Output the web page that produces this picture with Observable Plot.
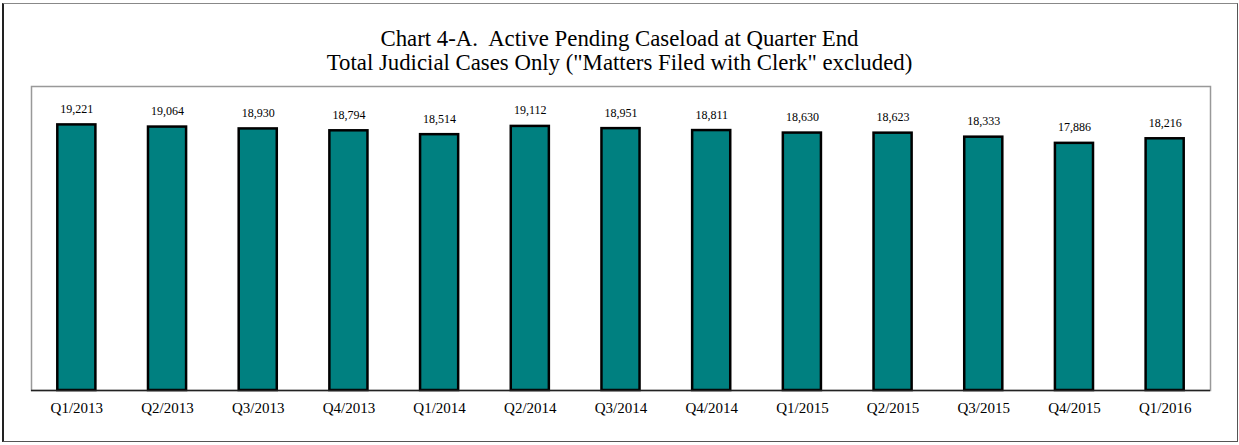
<!DOCTYPE html>
<html>
<head>
<meta charset="utf-8">
<script src="https://cdn.jsdelivr.net/npm/d3@7"></script>
<script src="https://cdn.jsdelivr.net/npm/@observablehq/plot@0.6"></script>
<style>
  body { margin: 0; background: #fff; }
  #wrap { position: relative; width: 1239px; height: 445px; overflow: hidden; font-family: "Liberation Serif", "Times New Roman", serif; }
  #border { position: absolute; left: 2px; top: 3px; width: 1233px; height: 437px; border: 1px solid #555; border-left: 2px solid #222; border-top-color: #888; pointer-events: none; }
  #title { position: absolute; left: 0; top: 27px; width: 1239px; text-align: center; font-size: 22.8px; line-height: 24px; color: #000; }
  #chart { position: absolute; left: 0; top: 0; }
</style>
</head>
<body>
<div id="wrap">
  <div id="chart"></div>
  <div id="title">Chart 4-A.&nbsp; Active Pending Caseload at Quarter End<br>Total Judicial Cases Only ("Matters Filed with Clerk" excluded)</div>
  <div id="border"></div>
</div>
<script>
const quarters = ["Q1/2013","Q2/2013","Q3/2013","Q4/2013","Q1/2014","Q2/2014","Q3/2014","Q4/2014","Q1/2015","Q2/2015","Q3/2015","Q4/2015","Q1/2016"];
const caseload = [19221,19064,18930,18794,18514,19112,18951,18811,18630,18623,18333,17886,18216];

const data = quarters.map((q, i) => ({quarter: q, value: caseload[i]}));

const chart = Plot.plot({
  width: 1239,
  height: 445,
  marginLeft: 31,
  marginRight: 29,
  marginTop: 86,
  marginBottom: 55,
  style: {fontFamily: '"Liberation Serif", "Times New Roman", serif', background: "transparent"},
  x: {domain: quarters, paddingInner: 0.58, paddingOuter: 0.29, round: false, label: null, tickSize: 0, tickPadding: 11},
  y: {domain: [0, 22000], axis: null},
  marks: [
    Plot.frame({stroke: "#999", strokeWidth: 1.5}),
    Plot.barY(data, {x: "quarter", y: "value", fill: "#008080", stroke: "#000", strokeWidth: 2.5}),
    Plot.ruleY([0], {stroke: "#222", strokeWidth: 1.5}),
    Plot.text(data, {x: "quarter", y: "value", text: d => d3.format(",")(d.value), dy: -12, lineAnchor: "bottom", fontSize: 12, fill: "#000"}),
    Plot.axisX({tickSize: 0, tickPadding: 12, fontSize: 15, label: null, fill: "#000"})
  ]
});
document.getElementById("chart").appendChild(chart);
</script>
</body>
</html>
